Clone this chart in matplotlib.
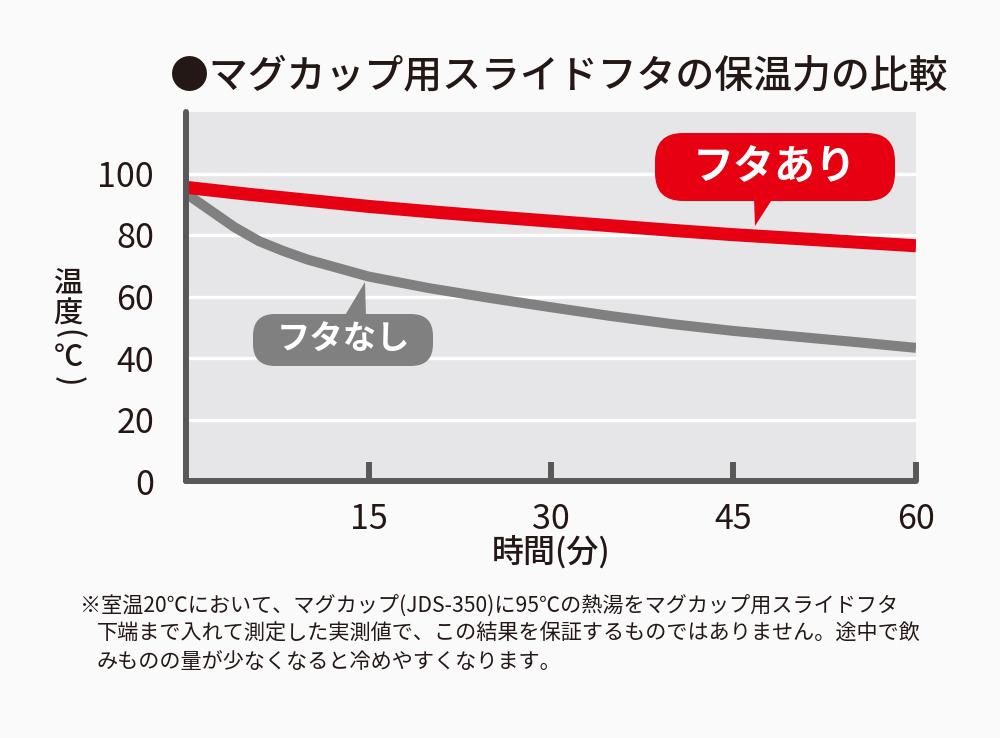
import matplotlib
matplotlib.use('Agg')
from matplotlib import pyplot as plt
from matplotlib.patches import FancyBboxPatch, Polygon
import matplotlib.transforms as mtransforms

plt.rcParams['font.family'] = ['Noto Sans CJK JP', 'DejaVu Sans']

# data (minutes, deg C)
lid_t = [0, 5, 10, 15, 20, 25, 30, 35, 40, 45, 50, 55, 60]
lid_temp = [95.5, 93.3, 91.3, 89.3, 87.6, 86.0, 84.5, 83.0, 81.5, 80.1, 78.9, 77.7, 76.5]

nolid_t = [0, 2, 4, 6, 8, 10, 15, 20, 25, 30, 35, 40, 45, 50, 55, 60]
nolid_temp = [93.5, 88.0, 82.5, 78.0, 74.8, 72.0, 66.5, 62.7, 59.5, 56.5, 53.6, 51.0, 48.8, 47.0, 45.2, 43.3]

x_ticks = [15, 30, 45, 60]
y_ticks = [0, 20, 40, 60, 80, 100]

title = '●マグカップ用スライドフタの保温力の比較'
note_lines = [
    '※室温20℃において、マグカップ(JDS-350)に95℃の熱湯をマグカップ用スライドフタ',
    '下端まで入れて測定した実測値で、この結果を保証するものではありません。途中で飲',
    'みものの量が少なくなると冷めやすくなります。',
]

RED = '#e60012'
GREY = '#808080'
AXIS = '#595757'
INK = '#231815'
W, H = 1000, 738

fig = plt.figure(figsize=(W / 100, H / 100), dpi=100, facecolor='#fafafa')
ax = fig.add_axes([186 / W, 1 - 481 / H, 730 / W, 369 / H])
ax.set_facecolor('#e6e6e8')

ax.plot(nolid_t, nolid_temp, color=GREY, lw=7.2, zorder=3, solid_capstyle='butt')
ax.plot(lid_t, lid_temp, color=RED, lw=9.4, zorder=4, solid_capstyle='butt')

ax.set_xlim(0, 60)
ax.set_ylim(0, 120)
ax.set_xticks(x_ticks)
ax.set_yticks(y_ticks)
ax.set_xticklabels([str(v) for v in x_ticks])
ax.set_yticklabels([str(v) for v in y_ticks])
ax.yaxis.grid(True, color='white', lw=2.4)
ax.set_axisbelow(True)

for s in ['top', 'right']:
    ax.spines[s].set_visible(False)
for s in ['left', 'bottom']:
    ax.spines[s].set_color(AXIS)
    ax.spines[s].set_linewidth(4.3)
    ax.spines[s].set_capstyle('round')
    ax.spines[s].set_zorder(5)

ax.tick_params(axis='x', direction='in', length=14, width=4.3, color=AXIS,
               labelsize=24.5, labelcolor=INK, pad=15)
ax.tick_params(axis='y', length=0, labelsize=24.5, labelcolor=INK, pad=23)

# pixel coordinates measured from the top-left corner of the figure
px = mtransforms.Affine2D().scale(1 / W, -1 / H).translate(0, 1) + fig.transFigure

fig.text(170, 76, title, transform=px, fontsize=28, fontweight='medium',
         color=INK, ha='left', va='center')

# vertical y label (Japanese vertical writing)
lab = dict(transform=px, fontsize=21, fontweight='medium', color=INK, ha='center', va='center')
fig.text(68, 283, '温', **lab)
fig.text(68, 314, '度', **lab)
fig.text(68, 334, '(', rotation=-90, **lab)
fig.text(68, 357, '℃', **lab)
fig.text(68, 381, ')', rotation=-90, **lab)

fig.text(551, 553, '時間(分)', transform=px, fontsize=23, fontweight='medium',
         color=INK, ha='center', va='center')

# callouts
def callout(x0, y0, x1, y1, r, tri, label, color, size):
    box = FancyBboxPatch((x0, y0), x1 - x0, y1 - y0,
                         boxstyle=f'round,pad=0,rounding_size={r}',
                         transform=px, facecolor=color, edgecolor='none', zorder=6)
    fig.add_artist(box)
    fig.add_artist(Polygon(tri, closed=True, transform=px, facecolor=color,
                           edgecolor='none', zorder=6))
    fig.text((x0 + x1) / 2, (y0 + y1) / 2, label, transform=px, fontsize=size,
             fontweight='bold', color='white', ha='center', va='center', zorder=7)

callout(655, 133, 895, 201, 28, [(754, 198), (773, 198), (755, 226)], 'フタあり', RED, 29.5)
callout(253, 314, 433, 366, 22, [(344, 317), (366, 317), (365, 282)], 'フタなし', GREY, 24)

note = dict(transform=px, fontsize=15.2, color=INK, ha='left', va='center')
fig.text(80, 607, note_lines[0], **note)
fig.text(97, 634, note_lines[1], **note)
fig.text(97, 662, note_lines[2], **note)

fig.savefig('out.png', dpi=100, facecolor=fig.get_facecolor())
